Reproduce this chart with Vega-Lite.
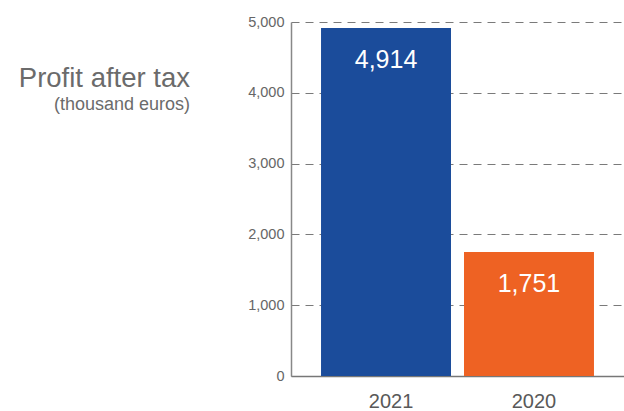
{
  "$schema": "https://vega.github.io/schema/vega-lite/v6.json",
  "width": 333,
  "height": 354,
  "autosize": {"type": "none"},
  "padding": {"left": 291, "top": 22, "right": 0, "bottom": 35},
  "background": "white",
  "title": {
    "text": "Profit after tax",
    "subtitle": "(thousand euros)",
    "orient": "top",
    "anchor": "start",
    "align": "right",
    "frame": "group",
    "dx": -101,
    "dy": 100,
    "offset": 0,
    "font": "Liberation Sans",
    "fontSize": 27.5,
    "fontWeight": "normal",
    "color": "#6b6b6b",
    "subtitleFont": "Liberation Sans",
    "subtitleFontSize": 18,
    "subtitleColor": "#6b6b6b",
    "subtitlePadding": 4
  },
  "config": {
    "view": {"stroke": null},
    "font": "Liberation Sans"
  },
  "data": {
    "values": [
      {"year": "2021", "profit": 4914, "label": "4,914"},
      {"year": "2020", "profit": 1751, "label": "1,751"}
    ]
  },
  "encoding": {
    "x": {
      "field": "year",
      "type": "nominal",
      "sort": ["2021", "2020"],
      "scale": {"paddingInner": 0.091, "paddingOuter": 0.21},
      "axis": {
        "title": null,
        "ticks": false,
        "domain": true,
        "domainColor": "#777777",
        "domainWidth": 1.5,
        "labelAngle": 0,
        "labelFont": "Liberation Sans",
        "labelFontSize": 20,
        "labelColor": "#595959",
        "labelPadding": 15,
        "labelOffset": 5
      }
    },
    "y": {
      "field": "profit",
      "type": "quantitative",
      "scale": {"domain": [0, 5000], "nice": false},
      "axis": {
        "title": null,
        "values": [0, 1000, 2000, 3000, 4000, 5000],
        "format": ",.0f",
        "ticks": false,
        "domain": true,
        "domainColor": "#888888",
        "domainWidth": 1.5,
        "labelFont": "Liberation Sans",
        "labelFontSize": 14.5,
        "labelColor": "#666666",
        "labelPadding": 7,
        "grid": true,
        "gridColor": "#7a7a7a",
        "gridDash": [8, 6],
        "gridWidth": 1
      }
    }
  },
  "layer": [
    {
      "mark": {"type": "bar"},
      "encoding": {
        "color": {
          "field": "year",
          "type": "nominal",
          "scale": {"domain": ["2021", "2020"], "range": ["#1b4c9b", "#ee6223"]},
          "legend": null
        }
      }
    },
    {
      "mark": {
        "type": "text",
        "baseline": "middle",
        "dy": 32,
        "color": "white",
        "fontSize": 25,
        "font": "Liberation Sans"
      },
      "encoding": {
        "text": {"field": "label"}
      }
    }
  ]
}
